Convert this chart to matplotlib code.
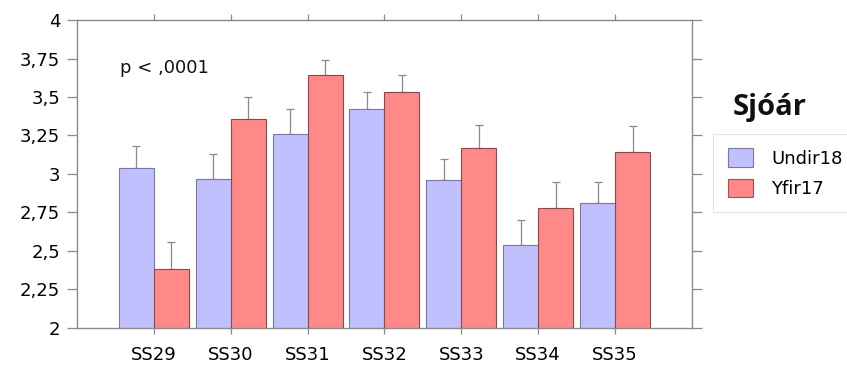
import numpy as np
import matplotlib.pyplot as plt
from matplotlib.patches import Patch

stations = ['SS29', 'SS30', 'SS31', 'SS32', 'SS33', 'SS34', 'SS35']
undir18 = [3.04, 2.97, 3.26, 3.42, 2.96, 2.54, 2.81]
undir18_err = [0.14, 0.16, 0.16, 0.11, 0.14, 0.16, 0.14]
yfir17 = [2.38, 3.36, 3.64, 3.53, 3.17, 2.78, 3.14]
yfir17_err = [0.18, 0.14, 0.10, 0.11, 0.15, 0.17, 0.17]
yticks = [2, 2.25, 2.5, 2.75, 3, 3.25, 3.5, 3.75, 4]
ytick_labels = ['2', '2,25', '2,5', '2,75', '3', '3,25', '3,5', '3,75', '4']

blue = '#c0c0ff'
red = '#ff8888'
grey = '#8a8a8a'

fig = plt.figure(figsize=(8.47, 3.65), dpi=100)
ax = fig.add_axes([0.0909, 0.1014, 0.7260, 0.8438])

x = np.arange(len(stations))
w = 0.455
ax.bar(x - w / 2, undir18, w, color=blue, edgecolor='#7878a8', linewidth=0.8, zorder=2)
ax.bar(x + w / 2, yfir17, w, color=red, edgecolor='#8a4a4a', linewidth=0.8, zorder=2)
ax.errorbar(x - w / 2, undir18, yerr=[np.zeros(len(x)), undir18_err], fmt='none',
            ecolor=grey, elinewidth=0.9, capsize=2.9, capthick=0.9, zorder=1)
ax.errorbar(x + w / 2, yfir17, yerr=[np.zeros(len(x)), yfir17_err], fmt='none',
            ecolor=grey, elinewidth=0.9, capsize=2.9, capthick=0.9, zorder=1)

ax.set_xlim(-1.0, 7.0)
ax.set_ylim(2, 4)
ax.set_yticks(yticks)
ax.set_yticklabels(ytick_labels)
ax.set_xticks(x)
ax.set_xticklabels(stations)

for s in ax.spines.values():
    s.set_color(grey)
    s.set_linewidth(1.0)

ax.tick_params(axis='x', which='both', direction='out', length=4, width=0.9, color=grey,
               top=True, labeltop=False, labelsize=13, pad=9)
ax.tick_params(axis='y', which='both', direction='out', length=7, width=0.9, color=grey,
               right=True, labelright=False, labelsize=13, pad=5)

ax.text(0.07, 0.845, 'p < ,0001', transform=ax.transAxes, fontsize=13, va='center',
        color='#111111')

fig.text(0.865, 0.705, 'Sjóár', fontsize=21, fontweight='bold', family='Open Sans',
         va='center', color='#111111')
handles = [Patch(facecolor=blue, edgecolor='#7878a8', linewidth=0.8),
           Patch(facecolor=red, edgecolor='#a05050', linewidth=0.8)]
leg = fig.legend(handles, ['Undir18', 'Yfir17'], loc='upper left',
                 bbox_to_anchor=(0.842, 0.633), fontsize=13, frameon=True,
                 fancybox=False, edgecolor='#dddddd', handlelength=1.4,
                 handleheight=1.2, handletextpad=1.0, borderpad=0.8,
                 labelspacing=0.6, borderaxespad=0)
leg.get_frame().set_linewidth(0.8)

fig.savefig('out.png', dpi=100)
